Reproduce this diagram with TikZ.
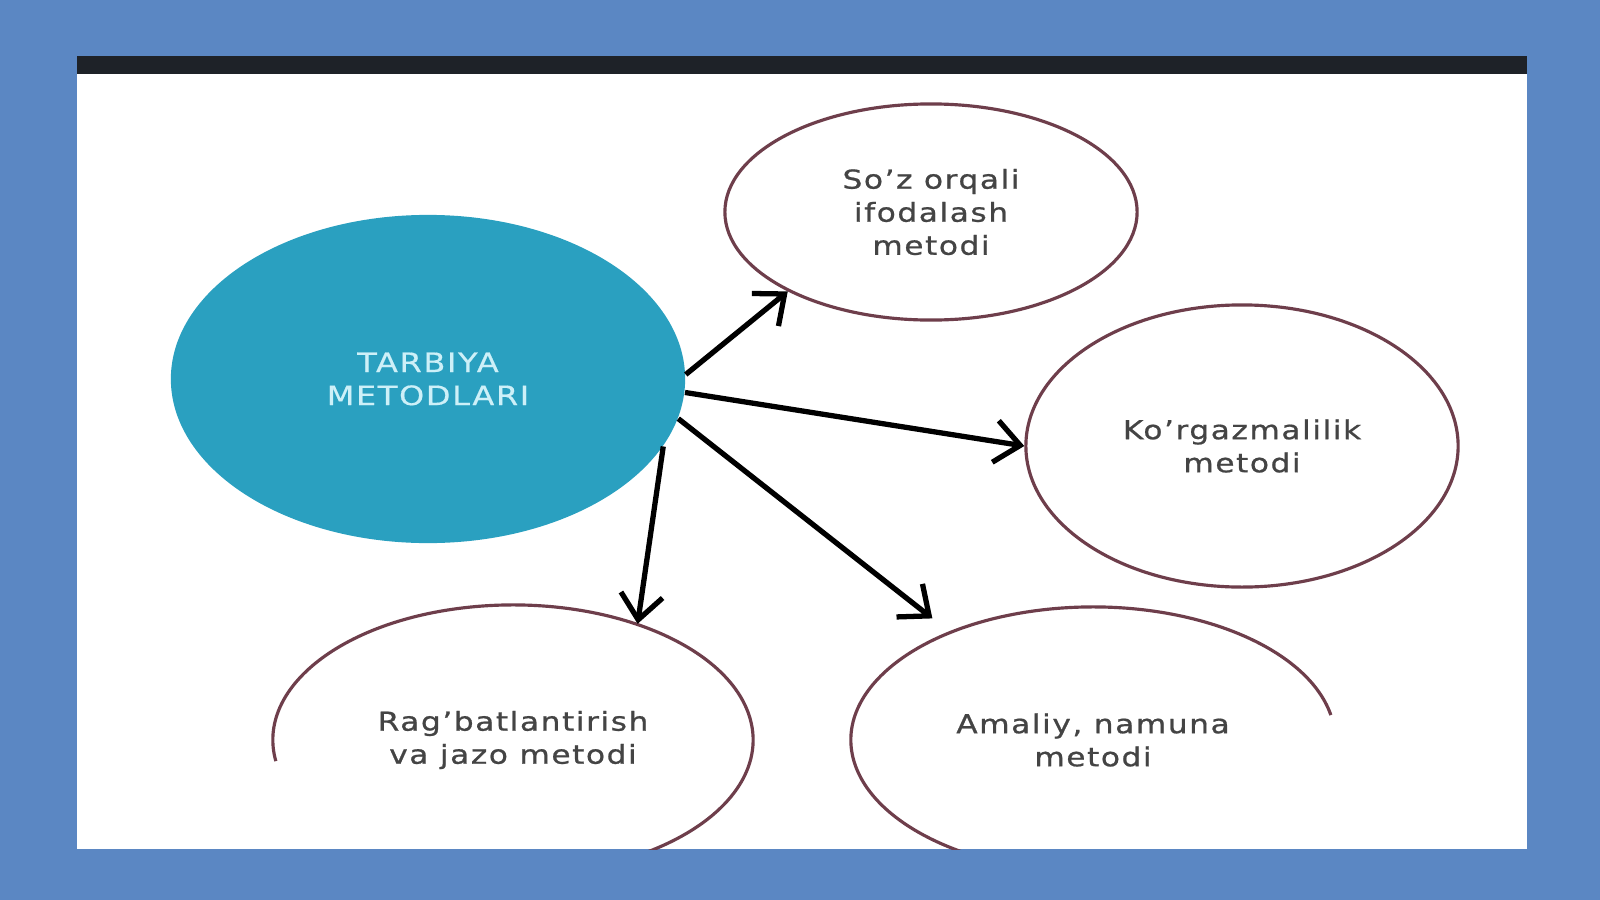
\documentclass[tikz,border=0pt]{standalone}
\usepackage{fontspec}
\setmainfont{DejaVu Sans}
\newfontfamily\labfont[FakeStretch=1.2,LetterSpace=6,FakeBold=0.8]{DejaVu Sans}
\newfontfamily\centrefont[FakeStretch=1.2,LetterSpace=6,FakeBold=0.5]{DejaVu Sans}
\usetikzlibrary{arrows.meta,shapes.geometric}
\definecolor{bgblue}{RGB}{91,135,195}
\definecolor{barblack}{RGB}{30,34,40}
\definecolor{tealfill}{RGB}{42,160,192}
\definecolor{centretext}{RGB}{205,240,248}
\definecolor{ovalc}{RGB}{110,62,75}
\definecolor{labc}{RGB}{68,68,68}
\begin{document}
\begin{tikzpicture}[x=0.01cm,y=0.01cm,
  labeltext/.style={align=center, font=\labfont\fontsize{7.4}{9.4}\selectfont},
  centre/.style={ellipse, fill=tealfill, draw=none, inner sep=0pt, align=center, text=centretext,
    font=\centrefont\fontsize{7.6}{9.4}\selectfont},
  oval/.style={ellipse, draw=ovalc, line width=0.9pt, inner sep=0pt, labeltext, text=labc},
  hiddenoval/.style={ellipse, draw=none, inner sep=0pt, labeltext, text=labc},
  arcline/.style={draw=ovalc, line width=0.9pt},
  arr/.style={draw=black, line width=1.5pt, -{Straight Barb[length=2.5mm,width=4.2mm]}}]
\useasboundingbox (0,0) rectangle (1600,-900);
\fill[bgblue] (0,0) rectangle (1600,-900);
\fill[white] (77,-73.5) rectangle (1527,-849);
\fill[barblack] (77,-56) rectangle (1527,-73.5);

\node[centre, minimum width=5.14cm, minimum height=3.28cm] (tm) at (428,-379) {TARBIYA\\METODLARI};
\node[oval, minimum width=4.12cm, minimum height=2.16cm] (soz) at (931,-212) {So’z orqali\\ifodalash\\metodi};
\node[oval, minimum width=4.32cm, minimum height=2.82cm] (kor) at (1242,-446) {Ko’rgazmalilik\\metodi};
\node[hiddenoval, minimum width=4.8cm, minimum height=2.7cm] (rag) at (513,-740) {Rag’batlantirish\\va jazo metodi};
\node[hiddenoval, minimum width=4.84cm, minimum height=2.66cm] (ama) at (1093,-740) {Amaliy, namuna\\metodi};

\begin{scope}
  \clip (77,-73.5) rectangle (1527,-849);
  \draw[arcline] (rag.center) ++(189:2.4cm and 1.35cm)
    arc[start angle=189, end angle=-90, x radius=2.4cm, y radius=1.35cm];
  \draw[arcline] (ama.center) ++(10.8:2.42cm and 1.33cm)
    arc[start angle=10.8, end angle=270, x radius=2.42cm, y radius=1.33cm];
\end{scope}

\draw[arr] (tm.1.6) -- (soz.209.6);
\draw[arr] (tm.-3.8) -- (kor.west);
\draw[arr, shorten >=2.2mm] (tm.-9.8) -- (ama.143.9);
\draw[arr] (tm.-16) -- (rag.43.4);
\end{tikzpicture}
\end{document}
